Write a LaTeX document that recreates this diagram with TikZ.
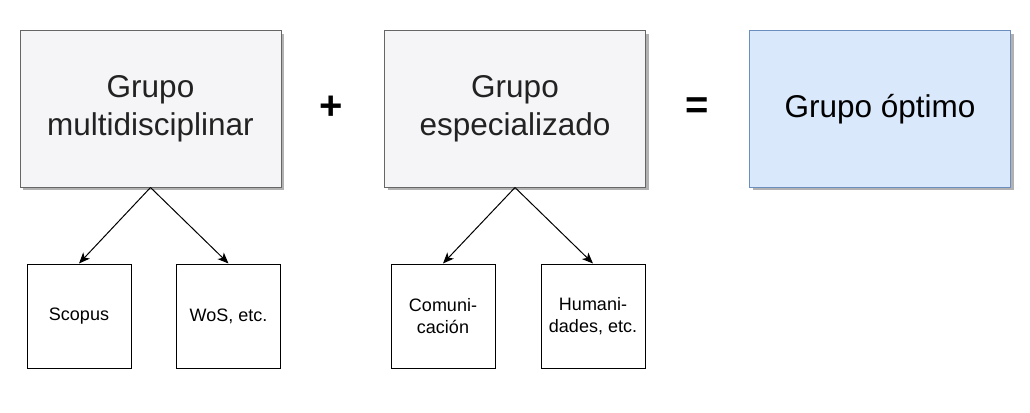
\documentclass[tikz,border=0pt]{standalone}
\usepackage{fontspec}
\setmainfont{Liberation Sans}
\usetikzlibrary{arrows.meta,shadows}
\definecolor{greyfill}{HTML}{F5F4F7}
\definecolor{greyline}{HTML}{666666}
\definecolor{bluefill}{HTML}{DAE8FC}
\definecolor{blueline}{HTML}{6C8EBF}
\definecolor{txt}{HTML}{222222}
\tikzset{
  bigbox/.style={draw=greyline, fill=greyfill, line width=1pt, minimum width=261pt, minimum height=156pt, inner sep=0pt, align=center, text=txt,
    font=\fontsize{31.5}{38}\selectfont,
    drop shadow={shadow xshift=3pt, shadow yshift=-3pt, fill=black, opacity=0.3}},
  bluebox/.style={bigbox, draw=blueline, fill=bluefill, text=black},
  smallbox/.style={draw=black, line width=1pt, minimum width=104pt, minimum height=104pt, inner sep=0pt, align=center, text=black,
    font=\fontsize{18}{22}\selectfont},
  sign/.style={font=\fontsize{40}{40}\selectfont\bfseries, text=black, inner sep=0pt},
  conn/.style={draw=black, line width=1pt, -{Stealth[length=11pt, width=9pt, inset=3pt]}}
}
\begin{document}
\begin{tikzpicture}[x=1pt, y=-1pt]
\useasboundingbox (0,0) rectangle (1030,412);
\node[bigbox] (g1) at (150.5,109) {Grupo\\multidisciplinar};
\node[bigbox] (g2) at (515,109) {Grupo\\especializado};
\node[bluebox] (g3) at (880,109) {Grupo óptimo};
\node[sign] (plus) at (331,108) {+};
\node[sign] (eq) at (697,108) {=};
\node[smallbox] (s1) at (79,316) {Scopus};
\node[smallbox] (s2) at (228.5,316) {WoS, etc.};
\node[smallbox] (s3) at (443,316) {Comuni-\\cación};
\node[smallbox] (s4) at (593,316) {Humani-\\dades, etc.};
\draw[conn] (g1.south) -- (s1.north);
\draw[conn] (g1.south) -- (s2.north);
\draw[conn] (g2.south) -- (s3.north);
\draw[conn] (g2.south) -- (s4.north);
\end{tikzpicture}
\end{document}
